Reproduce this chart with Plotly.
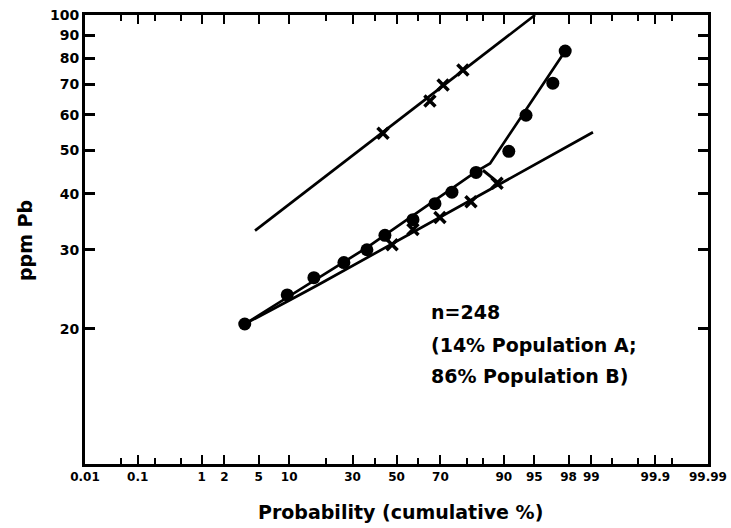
from statistics import NormalDist
import plotly.graph_objects as go

# ---------------- data (probability in cumulative %, concentration in ppm Pb) -------------
total_p = [3.5, 9.6, 16.2, 26.5, 36.2, 44.5, 57.8, 67.7, 74.6, 82.9, 91.0, 93.9, 96.9, 97.8]
total_ppm = [20.5, 23.8, 26.0, 28.1, 30.0, 32.3, 35.0, 38.0, 40.3, 44.6, 49.7, 59.8, 70.5, 83.1]

total_curve_p = [3.5, 36.0, 82.9, 86.8, 97.8]
total_curve_ppm = [20.5, 30.3, 44.8, 46.7, 83.1]

popA_p = [43.6, 65.5, 71.1, 78.6]
popA_ppm = [54.5, 64.3, 69.8, 75.4]
popA_line_p = [4.56, 95.1]
popA_line_ppm = [33.1, 100.0]

popB_p = [47.9, 57.8, 69.8, 81.3, 88.5]
popB_ppm = [30.8, 33.3, 35.4, 38.4, 42.2]
popB_line_p = [3.5, 18.1, 99.05]
popB_line_ppm = [20.5, 25.2, 54.8]

tie_p = [84.9, 88.7]
tie_ppm = [45.1, 42.4]

x_major = [0.01, 0.1, 1, 2, 5, 10, 30, 50, 70, 90, 95, 98, 99, 99.9, 99.99]
x_major_text = ["0.01", "0.1", "1", "2", "5", "10", "30", "50", "70", "90", "95", "98", "99", "99.9", "99.99"]
x_minor = [0.05, 0.2, 0.5, 20, 40, 60, 80, 85, 99.5, 99.8, 99.95]
y_ticks = [20, 30, 40, 50, 60, 70, 80, 90, 100]
y_tick_text = ["20", "30", "40", "50", "60", "70", "80", "90", "100"]

# ---------------------------------------------------------------------------------------
nd = NormalDist()


def z(ps):
    return [nd.inv_cdf(p / 100.0) for p in ps]


FONT = "DejaVu Sans"
BLACK = "#000000"
LW = 2.7

fig = go.Figure()

# fitted lines
fig.add_trace(go.Scatter(x=z(popA_line_p), y=popA_line_ppm, mode="lines",
                         line=dict(color=BLACK, width=LW)))
fig.add_trace(go.Scatter(x=z(popB_line_p), y=popB_line_ppm, mode="lines",
                         line=dict(color=BLACK, width=LW, shape="spline")))
fig.add_trace(go.Scatter(x=z(total_curve_p), y=total_curve_ppm, mode="lines",
                         line=dict(color=BLACK, width=LW)))
fig.add_trace(go.Scatter(x=z(tie_p), y=tie_ppm, mode="lines",
                         line=dict(color=BLACK, width=3)))

# points
fig.add_trace(go.Scatter(x=z(total_p), y=total_ppm, mode="markers",
                         marker=dict(symbol="circle", size=13, color=BLACK)))
fig.add_trace(go.Scatter(x=z(popA_p), y=popA_ppm, mode="markers",
                         marker=dict(symbol="x-thin", size=11, color=BLACK,
                                     line=dict(color=BLACK, width=3.5))))
fig.add_trace(go.Scatter(x=z(popB_p), y=popB_ppm, mode="markers",
                         marker=dict(symbol="x-thin", size=11, color=BLACK,
                                     line=dict(color=BLACK, width=3.5))))

L, R, T, B = 85, 23, 15, 64
W, H = 731, 528
PW, PH = W - L - R, H - T - B


def px(xp):
    return (xp - L) / PW


def py(yp):
    return 1 - (yp - T) / PH


annotations = [
    dict(text="A", x=z([84.1])[0], y=86.6, xref="x", yref="y", showarrow=False,
         font=dict(family=FONT, size=20, color=BLACK)),
    dict(text="B", x=z([98.78])[0], y=50.0, xref="x", yref="y", showarrow=False,
         font=dict(family=FONT, size=20, color=BLACK)),
    dict(text="n=248", x=px(429), y=py(311.5), xref="paper", yref="paper",
         xanchor="left", yanchor="middle", showarrow=False,
         font=dict(family=FONT, size=19, color=BLACK, weight="bold")),
    dict(text="(14% Population A;", x=px(429), y=py(345), xref="paper", yref="paper",
         xanchor="left", yanchor="middle", showarrow=False,
         font=dict(family=FONT, size=19, color=BLACK, weight="bold")),
    dict(text="86% Population B)", x=px(429), y=py(376), xref="paper", yref="paper",
         xanchor="left", yanchor="middle", showarrow=False,
         font=dict(family=FONT, size=19, color=BLACK, weight="bold")),
    dict(text="Probability (cumulative %)", x=px(400), y=py(512), xref="paper", yref="paper",
         xanchor="center", yanchor="middle", showarrow=False,
         font=dict(family=FONT, size=19, color=BLACK, weight="bold")),
    dict(text="ppm Pb", x=px(25), y=py(241), xref="paper", yref="paper", textangle=-90,
         xanchor="center", yanchor="middle", showarrow=False,
         font=dict(family=FONT, size=19, color=BLACK, weight="bold")),
]

fig.update_layout(
    width=W, height=H,
    margin=dict(l=L, r=R, t=T, b=B, pad=0, autoexpand=False),
    paper_bgcolor="white", plot_bgcolor="white",
    showlegend=False,
    annotations=annotations,
    xaxis=dict(
        range=[nd.inv_cdf(0.0001), nd.inv_cdf(0.9999)],
        tickmode="array", tickvals=z(x_major), ticktext=x_major_text,
        ticks="inside", ticklen=9, tickwidth=2, tickcolor=BLACK,
        minor=dict(tickmode="array", tickvals=z(x_minor), ticks="inside",
                   ticklen=6, tickwidth=2, tickcolor=BLACK, showgrid=False),
        showline=True, linewidth=3, linecolor=BLACK, mirror="allticks",
        showgrid=False, zeroline=False, automargin=False,
        tickfont=dict(family=FONT, size=12, color=BLACK, weight="bold"),
    ),
    yaxis=dict(
        type="log", range=[1, 2],
        tickmode="array", tickvals=y_ticks, ticktext=y_tick_text,
        ticks="inside", ticklen=10, tickwidth=3, tickcolor=BLACK,
        showline=True, linewidth=3, linecolor=BLACK, mirror="allticks",
        showgrid=False, zeroline=False, automargin=False,
        tickfont=dict(family=FONT, size=14, color=BLACK, weight="bold"),
    ),
)

fig.write_html(
    "out.html",
    config={"displayModeBar": False},
    post_script="document.body.style.margin='0';document.body.style.overflow='hidden';",
)
